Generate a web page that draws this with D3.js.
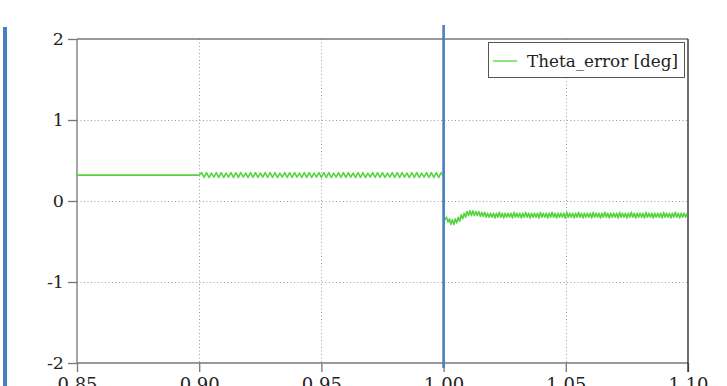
<!DOCTYPE html>
<html><head><meta charset="utf-8">
<script src="https://cdn.jsdelivr.net/npm/d3@7/dist/d3.min.js"></script>
<style>
html,body{margin:0;padding:0;background:#fff;}
svg{display:block;}
svg text{font-family:"DejaVu Serif","Liberation Serif",serif;}
</style></head>
<body>
<svg id="chart" width="727" height="386"></svg>
<script>
// ---- data ----
const xTicks = [0.85, 0.90, 0.95, 1.00, 1.05, 1.10];
const yTicks = [-2, -1, 0, 1, 2];
const seriesName = "Theta_error [deg]";
const markerTime = 1.00;

// flat part before 0.90
const flatTimes = [0.85, 0.90];
const flatValues = [0.32, 0.32];

// oscillating part 0.900 .. 1.000, sampled every 0.001 s
const segAStart = 0.900, segAStep = 0.001;
const segAValues = [
 0.32,0.35,0.29,0.35,0.29,0.345,0.295,0.35,0.29,0.35,
 0.29,0.345,0.295,0.35,0.29,0.35,0.29,0.35,0.295,0.345,
 0.29,0.35,0.29,0.35,0.29,0.345,0.295,0.35,0.29,0.35,
 0.29,0.35,0.29,0.345,0.295,0.35,0.29,0.35,0.29,0.35,
 0.295,0.345,0.29,0.35,0.29,0.35,0.29,0.345,0.295,0.35,
 0.29,0.35,0.29,0.35,0.29,0.345,0.295,0.35,0.29,0.35,
 0.29,0.35,0.295,0.345,0.29,0.35,0.29,0.35,0.29,0.345,
 0.295,0.35,0.29,0.35,0.29,0.35,0.29,0.345,0.295,0.35,
 0.29,0.35,0.29,0.35,0.295,0.345,0.29,0.35,0.29,0.35,
 0.29,0.345,0.295,0.35,0.29,0.35,0.29,0.35,0.29,0.35,
 0.31
];

// after the step at 1.000, sampled every 0.0006 s
const segBStart = 1.000, segBStep = 0.0006;
const segBValues = [
 -0.19,-0.23,-0.20,-0.26,-0.22,-0.29,-0.23,-0.29,-0.22,-0.27,
 -0.20,-0.25,-0.17,-0.22,-0.15,-0.20,-0.13,-0.18,-0.12,-0.18,
 -0.12,-0.18,-0.13,-0.18,-0.13,-0.19,-0.14,-0.19,-0.14,-0.20,
 -0.15,-0.20,-0.15,
 -0.20,-0.15,-0.21,-0.15,-0.20,-0.14,-0.20,-0.15,-0.21,-0.15,
 -0.20,-0.15,-0.20,-0.15,-0.21,-0.14,-0.20,-0.15,-0.20,-0.15,
 -0.21,-0.15,-0.20,-0.14,-0.20,-0.15,-0.21,-0.15,-0.20,-0.15,
 -0.20,-0.15,-0.21,-0.14,-0.20,-0.15,-0.20,-0.15,-0.21,-0.15,
 -0.20,-0.14,-0.20,-0.15,-0.21,-0.15,-0.20,-0.15,-0.20,-0.15,
 -0.21,-0.14,-0.20,-0.15,-0.20,-0.15,-0.21,-0.15,-0.20,-0.14,
 -0.20,-0.15,-0.21,-0.15,-0.20,-0.15,-0.20,-0.15,-0.21,-0.14,
 -0.20,-0.15,-0.20,-0.15,-0.21,-0.15,-0.20,-0.14,-0.20,-0.15,
 -0.21,-0.15,-0.20,-0.15,-0.20,-0.15,-0.21,-0.14,-0.20,-0.15,
 -0.20,-0.15,-0.21,-0.15,-0.20,-0.14,-0.20,-0.15,-0.21,-0.15,
 -0.20,-0.15,-0.20,-0.15,-0.21,-0.14,-0.20,-0.15,-0.20,-0.15,
 -0.21,-0.15,-0.20,-0.15,-0.20,-0.15,-0.21,-0.14,-0.20,-0.15,
 -0.20,-0.15,-0.21,-0.15,-0.20,-0.14,-0.20,-0.15,-0.21,-0.15,
 -0.20,-0.15,-0.20,-0.15,-0.21,-0.14
];

// ---- build series ----
const series = [];
flatTimes.forEach((t, i) => series.push([t, flatValues[i]]));
segAValues.forEach((v, i) => series.push([segAStart + i * segAStep, v]));
segBValues.forEach((v, i) => { const t = segBStart + i * segBStep; if (t <= 1.1) series.push([t, v]); });

// ---- layout ----
const W = 727, H = 386;
const pLeft = 77, pRight = 688, pTop = 39, pBottom = 363;
const green = "#55d43f", blue = "#4a7fc0";

const svg = d3.select("#chart");
const x = d3.scaleLinear().domain([0.85, 1.10]).range([pLeft, pRight]);
const y = d3.scaleLinear().domain([-2, 2]).range([pBottom, pTop]);

// left decorative bar
svg.append("rect").attr("x", 3).attr("y", 27).attr("width", 4).attr("height", H - 27).attr("fill", blue);

// grid
const grid = svg.append("g").attr("stroke", "#9a9a9a").attr("stroke-width", 1).attr("stroke-dasharray", "1,2.5");
yTicks.filter(d => d > -2 && d < 2).forEach(d => {
  grid.append("line").attr("x1", pLeft).attr("x2", pRight).attr("y1", Math.round(y(d)) + 0.5).attr("y2", Math.round(y(d)) + 0.5);
});
xTicks.filter(d => d > 0.85 && d < 1.10).forEach(d => {
  grid.append("line").attr("y1", pTop).attr("y2", pBottom).attr("x1", Math.round(x(d)) + 0.5).attr("x2", Math.round(x(d)) + 0.5);
});

// axes
const yAxis = svg.append("g").attr("transform", `translate(${pLeft},0)`)
  .call(d3.axisLeft(y).tickValues(yTicks).tickSize(9).tickPadding(4).tickFormat(d => String(d)));
const xAxis = svg.append("g").attr("transform", `translate(0,${pBottom})`)
  .call(d3.axisBottom(x).tickValues(xTicks).tickSize(9).tickPadding(6).tickFormat(d3.format(".2f")));
[yAxis, xAxis].forEach(a => {
  a.attr("font-family", null);
  a.select(".domain").attr("stroke", "#777").attr("stroke-width", 1.3);
  a.selectAll(".tick line").attr("stroke", "#777").attr("stroke-width", 1.3);
  a.selectAll("text").attr("font-size", 17.5).attr("fill", "#222");
});
yAxis.select(".domain").attr("d", `M0,${pTop}V${pBottom}`);
xAxis.select(".domain").attr("d", `M${pLeft},0H${pRight}`);
xAxis.selectAll("text").attr("font-size", 18).attr("dy", "0.71em");

// top and right frame
svg.append("line").attr("x1", pLeft).attr("x2", pRight).attr("y1", pTop).attr("y2", pTop).attr("stroke", "#777").attr("stroke-width", 1.3);
svg.append("line").attr("x1", pRight).attr("x2", pRight).attr("y1", pTop).attr("y2", pBottom + 9).attr("stroke", "#222").attr("stroke-width", 1.3);

// series line
svg.append("path").datum(series)
  .attr("fill", "none").attr("stroke", green).attr("stroke-width", 1.6).attr("stroke-linejoin", "round")
  .attr("d", d3.line().x(d => x(d[0])).y(d => y(d[1])));

// marker line
svg.append("line").attr("x1", x(markerTime)).attr("x2", x(markerTime)).attr("y1", 25).attr("y2", 368)
  .attr("stroke", blue).attr("stroke-width", 2.6);

// legend
const lg = svg.append("g");
lg.append("rect").attr("x", 488.5).attr("y", 42.5).attr("width", 196).attr("height", 35)
  .attr("fill", "#fff").attr("stroke", "#555").attr("stroke-width", 1);
lg.append("line").attr("x1", 493).attr("x2", 517).attr("y1", 61).attr("y2", 61).attr("stroke", green).attr("stroke-width", 1.3);
lg.append("text").attr("x", 527).attr("y", 67).attr("font-size", 17.5).attr("fill", "#222")
  .attr("textLength", 151).attr("lengthAdjust", "spacingAndGlyphs").text(seriesName);
</script>
</body></html>
